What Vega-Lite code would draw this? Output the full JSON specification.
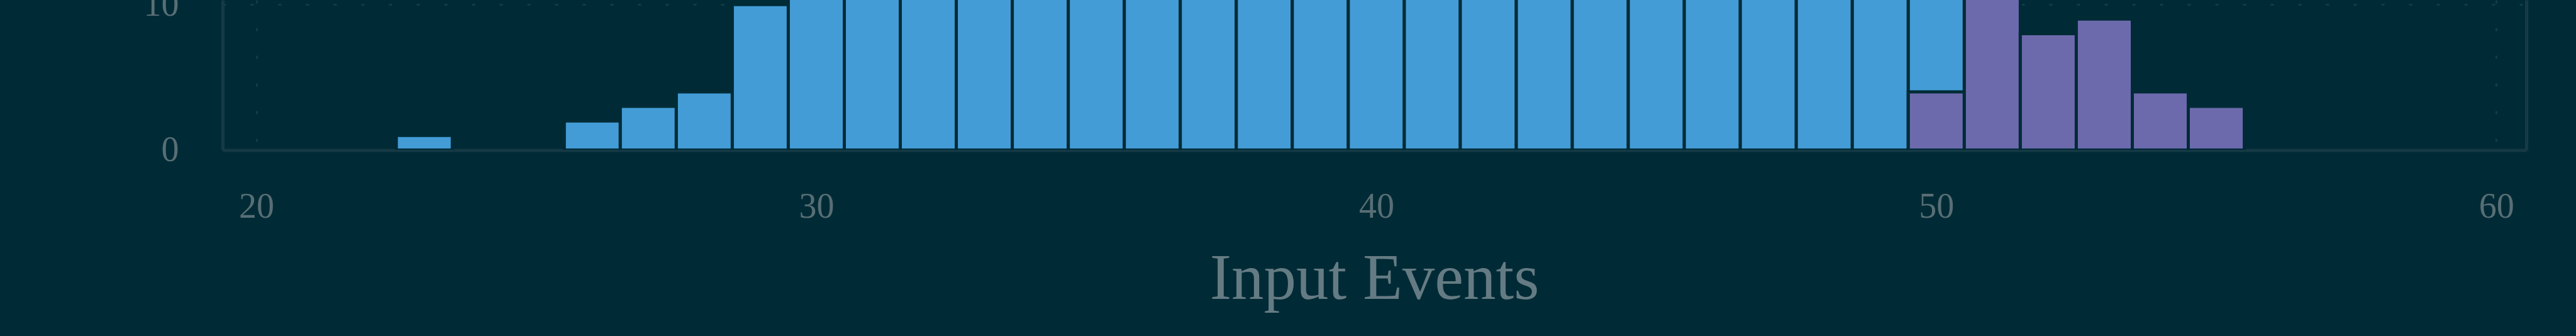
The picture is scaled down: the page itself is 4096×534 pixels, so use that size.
{
  "$schema": "https://vega.github.io/schema/vega-lite/v6.json",
  "width": 3663,
  "height": 238.5,
  "autosize": {"type": "none"},
  "padding": {"left": 354, "top": 0, "right": 79, "bottom": 295.5},
  "background": "#002b36",
  "view": {"stroke": null},
  "config": {
    "axis": {
      "labelFont": "Liberation Serif",
      "labelFontSize": 56,
      "labelColor": "#586e75",
      "titleFont": "Liberation Serif",
      "titleFontSize": 103,
      "titleFontWeight": "normal",
      "titleColor": "#657b83",
      "domainColor": "#163a45",
      "domainWidth": 5,
      "ticks": false,
      "tickSize": 0,
      "gridColor": "#0e3d49",
      "gridWidth": 3,
      "gridDash": [5, 39]
    }
  },
  "datasets": {
    "hist": [
      {"events": 23, "bin_start": 22.5, "bin_end": 23.5, "count": 1, "group": "A"},
      {"events": 26, "bin_start": 25.5, "bin_end": 26.5, "count": 2, "group": "A"},
      {"events": 27, "bin_start": 26.5, "bin_end": 27.5, "count": 3, "group": "A"},
      {"events": 28, "bin_start": 27.5, "bin_end": 28.5, "count": 4, "group": "A"},
      {"events": 29, "bin_start": 28.5, "bin_end": 29.5, "count": 10, "group": "A"},
      {"events": 30, "bin_start": 29.5, "bin_end": 30.5, "count": 13, "group": "A"},
      {"events": 31, "bin_start": 30.5, "bin_end": 31.5, "count": 15, "group": "A"},
      {"events": 32, "bin_start": 31.5, "bin_end": 32.5, "count": 18, "group": "A"},
      {"events": 33, "bin_start": 32.5, "bin_end": 33.5, "count": 20, "group": "A"},
      {"events": 34, "bin_start": 33.5, "bin_end": 34.5, "count": 23, "group": "A"},
      {"events": 35, "bin_start": 34.5, "bin_end": 35.5, "count": 25, "group": "A"},
      {"events": 36, "bin_start": 35.5, "bin_end": 36.5, "count": 27, "group": "A"},
      {"events": 37, "bin_start": 36.5, "bin_end": 37.5, "count": 28, "group": "A"},
      {"events": 38, "bin_start": 37.5, "bin_end": 38.5, "count": 30, "group": "A"},
      {"events": 39, "bin_start": 38.5, "bin_end": 39.5, "count": 31, "group": "A"},
      {"events": 40, "bin_start": 39.5, "bin_end": 40.5, "count": 31, "group": "A"},
      {"events": 41, "bin_start": 40.5, "bin_end": 41.5, "count": 30, "group": "A"},
      {"events": 42, "bin_start": 41.5, "bin_end": 42.5, "count": 29, "group": "A"},
      {"events": 43, "bin_start": 42.5, "bin_end": 43.5, "count": 27, "group": "A"},
      {"events": 44, "bin_start": 43.5, "bin_end": 44.5, "count": 25, "group": "A"},
      {"events": 45, "bin_start": 44.5, "bin_end": 45.5, "count": 23, "group": "A"},
      {"events": 46, "bin_start": 45.5, "bin_end": 46.5, "count": 20, "group": "A"},
      {"events": 47, "bin_start": 46.5, "bin_end": 47.5, "count": 18, "group": "A"},
      {"events": 48, "bin_start": 47.5, "bin_end": 48.5, "count": 15, "group": "A"},
      {"events": 49, "bin_start": 48.5, "bin_end": 49.5, "count": 12, "group": "A"},
      {"events": 50, "bin_start": 49.5, "bin_end": 50.5, "count": 11, "group": "A"},
      {"events": 50, "bin_start": 49.5, "bin_end": 50.5, "count": 4, "group": "B"},
      {"events": 51, "bin_start": 50.5, "bin_end": 51.5, "count": 12, "group": "B"},
      {"events": 52, "bin_start": 51.5, "bin_end": 52.5, "count": 8, "group": "B"},
      {"events": 53, "bin_start": 52.5, "bin_end": 53.5, "count": 9, "group": "B"},
      {"events": 54, "bin_start": 53.5, "bin_end": 54.5, "count": 4, "group": "B"},
      {"events": 55, "bin_start": 54.5, "bin_end": 55.5, "count": 3, "group": "B"}
    ]
  },
  "data": {"name": "hist"},
  "encoding": {
    "x": {
      "field": "bin_start",
      "type": "quantitative",
      "scale": {"domain": [19.455, 60.48], "nice": false, "zero": false},
      "axis": {
        "values": [20, 30, 40, 50, 60],
        "grid": true,
        "labelPadding": 90,
        "labelBaseline": "middle",
        "labelFlush": false,
        "title": "Input Events",
        "titleX": 1831,
        "titleY": 236,
        "titleAlign": "center",
        "titleBaseline": "alphabetic"
      }
    },
    "x2": {"field": "bin_end"},
    "y": {
      "field": "count",
      "type": "quantitative",
      "stack": null,
      "scale": {"domain": [0, 10.31], "nice": false, "zero": true}
    },
    "y2": {"datum": 0}
  },
  "layer": [
    {
      "transform": [{"filter": "datum.group == 'A'"}],
      "mark": {"type": "bar", "orient": "vertical", "clip": true, "fill": "#439cd6", "stroke": "#002b36", "strokeOpacity": 1, "strokeWidth": 5},
      "encoding": {
        "y": {
          "field": "count",
          "type": "quantitative",
          "stack": null,
          "axis": {
            "orient": "left",
            "values": [0, 10],
            "grid": true,
            "labelPadding": 70,
            "labelFlush": false,
            "title": null
          }
        }
      }
    },
    {
      "transform": [{"filter": "datum.group == 'B'"}],
      "mark": {"type": "bar", "orient": "vertical", "clip": true, "fill": "#6c6aac", "stroke": "#002b36", "strokeOpacity": 1, "strokeWidth": 5},
      "encoding": {
        "y": {
          "field": "count",
          "type": "quantitative",
          "stack": null,
          "axis": {
            "orient": "right",
            "values": [0, 10],
            "grid": false,
            "labels": false,
            "title": null
          }
        }
      }
    }
  ]
}
